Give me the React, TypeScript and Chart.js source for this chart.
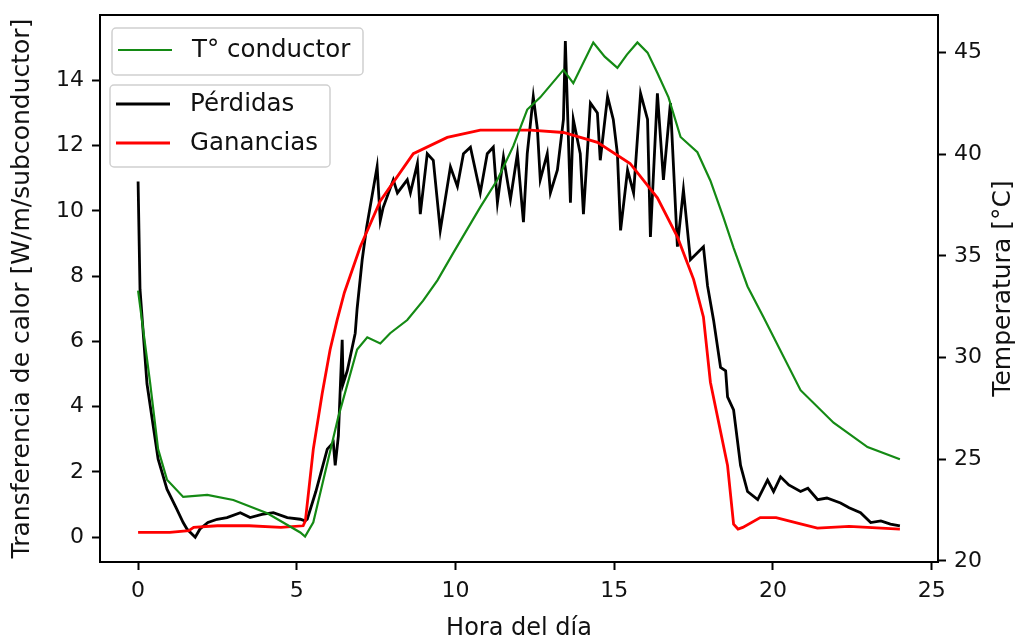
import React, { useEffect, useRef } from 'react';
import { Chart, registerables } from 'chart.js';

Chart.register(...registerables);

// ---- Data ----
const perdidasHours = [
  0, 0.06, 0.28, 0.63, 0.91, 1.2, 1.42, 1.54, 1.8, 1.95,
  2.2, 2.49, 2.8, 3.22, 3.53, 3.9, 4.26, 4.7, 5.11, 5.26,
  5.33, 5.6, 5.96, 6.15, 6.21, 6.31, 6.43, 6.46, 6.59, 6.84,
  6.9, 7.06, 7.2, 7.53, 7.63, 7.72, 8.04, 8.17, 8.48, 8.58,
  8.8, 8.89, 9.11, 9.3, 9.52, 9.84, 10.06, 10.25, 10.47, 10.78,
  11.0, 11.19, 11.32, 11.51, 11.73, 11.95, 12.14, 12.26, 12.45, 12.58,
  12.67, 12.89, 12.99, 13.21, 13.4, 13.46, 13.62, 13.71, 13.93, 14.03,
  14.25, 14.47, 14.56, 14.79, 14.97, 15.1, 15.2, 15.42, 15.61, 15.83,
  16.05, 16.14, 16.36, 16.55, 16.77, 16.99, 17.18, 17.4, 17.81, 17.94,
  18.13, 18.35, 18.51, 18.57, 18.76, 18.98, 19.2, 19.52, 19.83, 20.02,
  20.24, 20.5, 20.87, 21.1, 21.41, 21.7, 22.13, 22.4, 22.76, 23.08,
  23.4, 23.7, 24.0,
];
const perdidasValues = [
  10.9, 7.6, 4.7, 2.4, 1.47, 0.9, 0.45, 0.25, 0.0, 0.25,
  0.45, 0.55, 0.6, 0.75, 0.6, 0.7, 0.75, 0.6, 0.55, 0.5,
  0.55, 1.4, 2.7, 2.9, 2.2, 3.1, 6.05, 4.7, 5.1, 6.25,
  7.0, 8.5, 9.5, 11.35, 9.7, 10.1, 10.95, 10.55, 10.95, 10.55,
  11.45, 9.9, 11.75, 11.55, 9.4, 11.35, 10.75, 11.75, 11.95, 10.55,
  11.75, 11.95, 10.25, 11.65, 10.35, 11.75, 9.65, 11.75, 13.5, 12.5,
  10.95, 11.75, 10.55, 11.25, 12.8, 15.2, 10.25, 12.8, 11.75, 9.9,
  13.3, 13.0, 11.55, 13.5, 12.8, 11.75, 9.4, 11.25, 10.55, 13.6,
  12.8, 9.2, 13.6, 10.95, 13.3, 8.9, 10.65, 8.5, 8.9, 7.7,
  6.65, 5.2, 5.1, 4.3, 3.9, 2.2, 1.4, 1.15, 1.75, 1.4,
  1.85, 1.6, 1.4, 1.5, 1.15, 1.2, 1.05, 0.9, 0.75, 0.45,
  0.5, 0.4, 0.35,
];

const gananciasHours = [
  0, 1.0, 1.6, 1.75, 2.5, 3.5, 4.5, 5.2, 5.27, 5.52,
  5.8, 6.05, 6.27, 6.5, 7.0, 7.63, 8.67, 9.74, 10.78, 12.36,
  13.4, 14.47, 15.5, 16.36, 16.99, 17.5, 17.81, 18.03, 18.57, 18.76,
  18.9, 19.05, 19.6, 20.1, 20.9, 21.4, 22.4, 24.0,
];
const gananciasValues = [
  0.15, 0.15, 0.2, 0.3, 0.35, 0.35, 0.3, 0.35, 0.5, 2.7,
  4.4, 5.75, 6.65, 7.5, 8.9, 10.3, 11.75, 12.25, 12.47, 12.47,
  12.4, 12.1, 11.45, 10.4, 9.2, 7.9, 6.75, 4.75, 2.2, 0.4,
  0.25, 0.3, 0.6, 0.6, 0.4, 0.28, 0.33, 0.25,
];

const tempHours = [
  0, 0.38, 0.63, 0.91, 1.42, 2.18, 3.0, 4.07, 5.11, 5.26,
  5.52, 6.31, 6.9, 7.22, 7.63, 7.94, 8.48, 8.98, 9.43, 9.93,
  10.78, 11.32, 11.82, 12.26, 12.67, 13.4, 13.71, 14.34, 14.7, 15.1,
  15.4, 15.73, 16.05, 16.36, 16.71, 17.09, 17.62, 18.03, 18.44, 18.76,
  19.2, 19.7, 20.87, 21.91, 22.98, 24.0,
];
const tempValues = [
  33.3, 28.75, 25.5, 24.0, 23.15, 23.25, 23.0, 22.35, 21.4, 21.2,
  21.9, 27.1, 30.4, 31.0, 30.7, 31.2, 31.85, 32.8, 33.8, 35.15,
  37.4, 38.75, 40.4, 42.2, 42.8, 44.15, 43.5, 45.5, 44.8, 44.25,
  44.9, 45.5, 45.0, 44.0, 42.8, 40.85, 40.1, 38.7, 36.9, 35.4,
  33.5, 32.0, 28.4, 26.8, 25.6, 25.0,
];

const xTicks = [0, 5, 10, 15, 20, 25];
const leftTicks = [0, 2, 4, 6, 8, 10, 12, 14];
const rightTicks = [20, 25, 30, 35, 40, 45];

const xTitle = 'Hora del día';
const leftTitle = 'Transferencia de calor [W/m/subconductor]';
const rightTitle = 'Temperatura [°C]';
const perdidasLabel = 'Pérdidas';
const gananciasLabel = 'Ganancias';
const tempLabel = 'T° conductor';

const FONT = '"DejaVu Sans", "Noto Sans", sans-serif';
const COLORS = { perdidas: '#000000', ganancias: '#ff0000', temp: '#148a14' };

const pairs = (xs: number[], ys: number[]) => xs.map((x, i) => ({ x, y: ys[i] }));

const noPad = (s: any) => {
  s.paddingTop = 0;
  s.paddingBottom = 0;
  s.paddingLeft = 0;
  s.paddingRight = 0;
};

const framePlugin = {
  id: 'frameAndLegends',
  afterDraw(chart: any) {
    const ctx: CanvasRenderingContext2D = chart.ctx;
    const a = chart.chartArea;
    ctx.save();
    // top frame line
    ctx.strokeStyle = '#000';
    ctx.lineWidth = 2;
    ctx.beginPath();
    ctx.moveTo(a.left - 1, a.top);
    ctx.lineTo(a.right + 1, a.top);
    ctx.stroke();

    // right axis title (reads bottom to top)
    ctx.fillStyle = '#111';
    ctx.font = `25px ${FONT}`;
    ctx.textAlign = 'center';
    ctx.textBaseline = 'middle';
    ctx.save();
    ctx.translate(a.right + 65, (a.top + a.bottom) / 2);
    ctx.rotate(-Math.PI / 2);
    ctx.fillText(rightTitle, 0, 0);
    ctx.restore();

    const box = (x: number, y: number, w: number, h: number) => {
      ctx.beginPath();
      (ctx as any).roundRect(x, y, w, h, 4);
      ctx.fillStyle = 'rgba(255,255,255,0.85)';
      ctx.fill();
      ctx.strokeStyle = '#d0d0d0';
      ctx.lineWidth = 1.5;
      ctx.stroke();
    };
    const entry = (x: number, y: number, color: string, label: string, lw: number) => {
      ctx.strokeStyle = color;
      ctx.lineWidth = lw;
      ctx.beginPath();
      ctx.moveTo(x, y);
      ctx.lineTo(x + 54, y);
      ctx.stroke();
      ctx.fillStyle = '#111';
      ctx.font = `24.5px ${FONT}`;
      ctx.textAlign = 'left';
      ctx.textBaseline = 'middle';
      ctx.fillText(label, x + 74, y + 1);
    };
    const l = a.left;
    const t = a.top;
    // legend for temperature (twin axis)
    box(l + 12, t + 13, 251, 47);
    entry(l + 18, t + 35, COLORS.temp, tempLabel, 2.2);
    // legend for heat transfer
    box(l + 10, t + 70, 220, 82);
    entry(l + 16, t + 89, COLORS.perdidas, perdidasLabel, 2.8);
    entry(l + 16, t + 128, COLORS.ganancias, gananciasLabel, 2.8);
    ctx.restore();
  },
};

export default function App() {
  const canvasRef = useRef<HTMLCanvasElement | null>(null);

  useEffect(() => {
    const canvas = canvasRef.current;
    if (!canvas) return;
    Chart.defaults.font.family = FONT;
    const tickFont = { size: 22, family: FONT };
    const chart = new Chart(canvas, {
      type: 'line',
      data: {
        datasets: [
          {
            label: tempLabel,
            data: pairs(tempHours, tempValues),
            yAxisID: 'y2',
            borderColor: COLORS.temp,
            borderWidth: 2.2,
            pointRadius: 0,
            tension: 0,
            order: 0,
          },
          {
            label: gananciasLabel,
            data: pairs(gananciasHours, gananciasValues),
            yAxisID: 'y',
            borderColor: COLORS.ganancias,
            borderWidth: 2.8,
            pointRadius: 0,
            tension: 0,
            order: 1,
          },
          {
            label: perdidasLabel,
            data: pairs(perdidasHours, perdidasValues),
            yAxisID: 'y',
            borderColor: COLORS.perdidas,
            borderWidth: 2.8,
            pointRadius: 0,
            tension: 0,
            order: 2,
          },
        ],
      },
      options: {
        animation: false,
        responsive: false,
        devicePixelRatio: 1,
        parsing: false as any,
        layout: { padding: { top: 15, left: 0, right: 0, bottom: 0 } },
        plugins: { legend: { display: false }, tooltip: { enabled: false } },
        scales: {
          x: {
            type: 'linear',
            min: -1.2,
            max: 25.2,
            afterBuildTicks: (s: any) => { s.ticks = xTicks.map((v) => ({ value: v })); },
            afterFit: (s: any) => { s.height = 79; noPad(s); },
            ticks: { color: '#111', font: tickFont, padding: 8, includeBounds: false },
            grid: { drawOnChartArea: false, drawTicks: true, tickLength: 8, tickWidth: 2, color: '#000' },
            border: { display: true, color: '#000', width: 2 },
            title: { display: true, text: xTitle, color: '#111', font: { size: 24, family: FONT, lineHeight: 1.0 }, padding: { top: 0, bottom: 0 } },
          },
          y: {
            type: 'linear',
            position: 'left',
            min: -0.76,
            max: 16.0,
            afterBuildTicks: (s: any) => { s.ticks = leftTicks.map((v) => ({ value: v })); },
            afterFit: (s: any) => { s.width = 100; noPad(s); },
            ticks: { color: '#111', font: tickFont, padding: 8 },
            grid: { drawOnChartArea: false, drawTicks: true, tickLength: 8, tickWidth: 2, color: '#000' },
            border: { display: true, color: '#000', width: 2 },
            title: { display: true, text: leftTitle, color: '#111', font: { size: 25, family: FONT, lineHeight: 1.2 }, padding: { top: 7, bottom: 0 } },
          },
          y2: {
            type: 'linear',
            position: 'right',
            min: 19.95,
            max: 46.85,
            afterBuildTicks: (s: any) => { s.ticks = rightTicks.map((v) => ({ value: v })); },
            afterFit: (s: any) => { s.width = 83; noPad(s); },
            ticks: { color: '#111', font: tickFont, padding: 8 },
            grid: { drawOnChartArea: false, drawTicks: true, tickLength: 8, tickWidth: 2, color: '#000' },
            border: { display: true, color: '#000', width: 2 },
            title: { display: false },
          },
        },
      },
      plugins: [framePlugin],
    } as any);
    return () => chart.destroy();
  }, []);

  return (
    <div style={{ position: 'fixed', left: 0, top: 0, width: 1021, height: 641, background: '#fff' }}>
      <canvas ref={canvasRef} width={1021} height={641} style={{ display: 'block', width: 1021, height: 641 }} />
    </div>
  );
}
